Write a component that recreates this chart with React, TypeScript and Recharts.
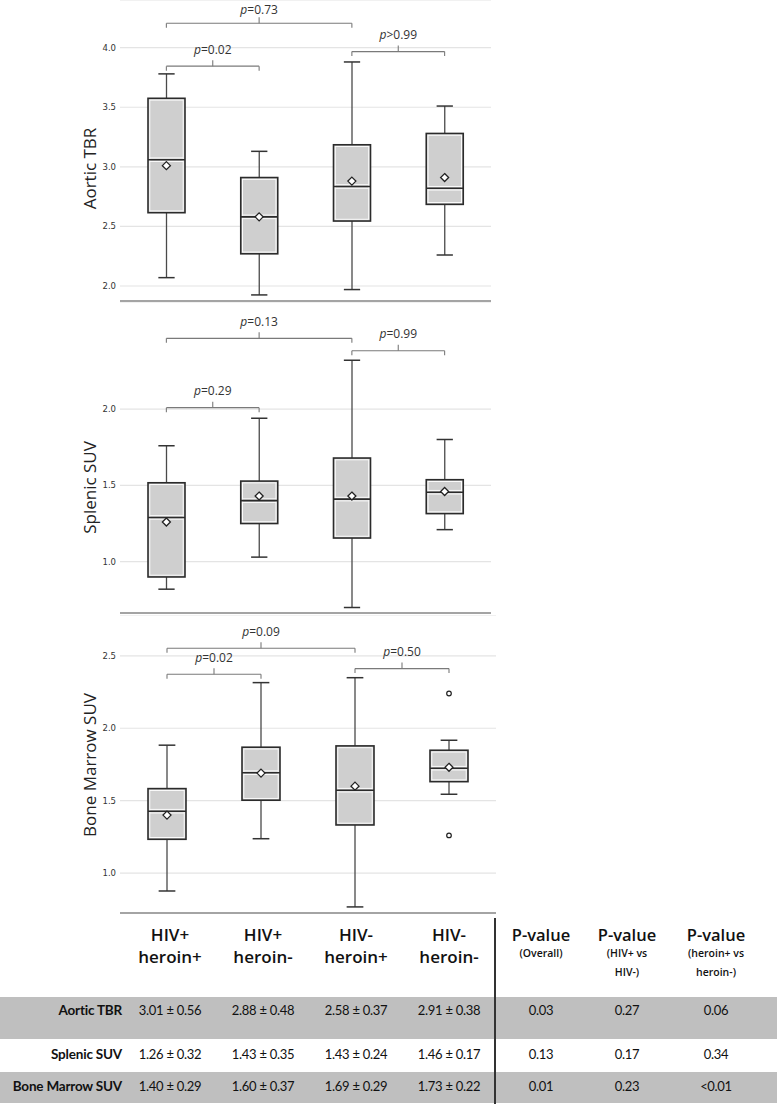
import React from 'react';
import { ComposedChart, Bar, Scatter, XAxis, YAxis, CartesianGrid, ReferenceLine } from 'recharts';

const groups = ['HIV+ heroin+', 'HIV+ heroin-', 'HIV- heroin+', 'HIV- heroin-'];

// Aortic TBR
const aorticMin = [2.07, 1.925, 1.97, 2.26];
const aorticQ1 = [2.615, 2.27, 2.545, 2.685];
const aorticMedian = [3.06, 2.58, 2.835, 2.82];
const aorticQ3 = [3.575, 2.91, 3.185, 3.28];
const aorticMax = [3.78, 3.13, 3.88, 3.51];
const aorticMean = [3.01, 2.58, 2.88, 2.91];
const aorticTicks = [2.0, 2.5, 3.0, 3.5, 4.0];

// Splenic SUV
const splenicMin = [0.82, 1.03, 0.7, 1.21];
const splenicQ1 = [0.9, 1.25, 1.155, 1.315];
const splenicMedian = [1.29, 1.4, 1.41, 1.455];
const splenicQ3 = [1.517, 1.528, 1.679, 1.537];
const splenicMax = [1.76, 1.94, 2.32, 1.8];
const splenicMean = [1.26, 1.43, 1.43, 1.46];
const splenicTicks = [1.0, 1.5, 2.0];

// Bone Marrow SUV
const marrowMin = [0.876, 1.237, 0.766, 1.544];
const marrowQ1 = [1.233, 1.503, 1.332, 1.631];
const marrowMedian = [1.427, 1.693, 1.572, 1.724];
const marrowQ3 = [1.583, 1.869, 1.878, 1.848];
const marrowMax = [1.883, 2.315, 2.349, 1.917];
const marrowMean = [1.4, 1.69, 1.6, 1.73];
const marrowOutlierGroup = ['HIV- heroin-', 'HIV- heroin-'];
const marrowOutlierValue = [2.24, 1.26];
const marrowTicks = [1.0, 1.5, 2.0, 2.5];

// p-value brackets: [from group, to group, height, text]
const aorticBrackets: [number, number, number, string][] = [
  [0, 1, 3.845, '=0.02'],
  [0, 2, 4.205, '=0.73'],
  [2, 3, 3.967, '>0.99'],
];
const splenicBrackets: [number, number, number, string][] = [
  [0, 1, 2.009, '=0.29'],
  [0, 2, 2.463, '=0.13'],
  [2, 3, 2.382, '=0.99'],
];
const marrowBrackets: [number, number, number, string][] = [
  [0, 1, 2.373, '=0.02'],
  [0, 2, 2.552, '=0.09'],
  [2, 3, 2.412, '=0.50'],
];

// table
const headerLines = [['HIV+', 'heroin+'], ['HIV+', 'heroin-'], ['HIV-', 'heroin+'], ['HIV-', 'heroin-']];
const pHeaders = [['(Overall)'], ['(HIV+ vs', 'HIV-)'], ['(heroin+ vs', 'heroin-)']];
const rowNames = ['Aortic TBR', 'Splenic SUV', 'Bone Marrow SUV'];
const aorticCells = ['3.01 ± 0.56', '2.88 ± 0.48', '2.58 ± 0.37', '2.91 ± 0.38'];
const splenicCells = ['1.26 ± 0.32', '1.43 ± 0.35', '1.43 ± 0.24', '1.46 ± 0.17'];
const marrowCells = ['1.40 ± 0.29', '1.60 ± 0.37', '1.69 ± 0.29', '1.73 ± 0.22'];
const pOverall = ['0.03', '0.13', '0.01'];
const pHivStatus = ['0.27', '0.17', '0.23'];
const pHeroin = ['0.06', '0.34', '<0.01'];

const buildRows = (mn: number[], q1: number[], med: number[], q3: number[], mx: number[], mean: number[]) =>
  groups.map((group, i) => ({ group, min: mn[i], q1: q1[i], median: med[i], q3: q3[i], max: mx[i], mean: mean[i] }));

const panels = [
  {
    label: 'Aortic TBR', labelShift: 18, top: 0, height: 310, width: 491, barSize: 37,
    domain: [1.874, 4.4], ticks: aorticTicks, brackets: aorticBrackets,
    rows: buildRows(aorticMin, aorticQ1, aorticMedian, aorticQ3, aorticMax, aorticMean),
    outliers: [] as { group: string; value: number }[],
  },
  {
    label: 'Splenic SUV', labelShift: 30, top: 302, height: 320, width: 491, barSize: 37,
    domain: [0.664, 2.701], ticks: splenicTicks, brackets: splenicBrackets,
    rows: buildRows(splenicMin, splenicQ1, splenicMedian, splenicQ3, splenicMax, splenicMean),
    outliers: [] as { group: string; value: number }[],
  },
  {
    label: 'Bone Marrow SUV', labelShift: 1, top: 615, height: 307, width: 496, barSize: 38,
    domain: [0.724, 2.782], ticks: marrowTicks, brackets: marrowBrackets,
    rows: buildRows(marrowMin, marrowQ1, marrowMedian, marrowQ3, marrowMax, marrowMean),
    outliers: marrowOutlierGroup.map((group, i) => ({ group, value: marrowOutlierValue[i] })),
  },
];

const BoxShape = (props: any) => {
  const { x, y, width, height, payload } = props;
  if (!payload) return null;
  const top = Math.min(y, y + height);
  const h = Math.abs(height);
  const py = (v: number) => top + (h * (payload.max - v)) / (payload.max - payload.min);
  const cx = x + width / 2;
  const yQ3 = py(payload.q3);
  const yQ1 = py(payload.q1);
  const yMed = py(payload.median);
  const cap = width * 0.22;
  return (
    <g>
      <line x1={cx} x2={cx} y1={top} y2={yQ3} stroke="#4a4a4a" strokeWidth={1.3} />
      <line x1={cx} x2={cx} y1={yQ1} y2={top + h} stroke="#4a4a4a" strokeWidth={1.3} />
      <line x1={cx - cap} x2={cx + cap} y1={top} y2={top} stroke="#333" strokeWidth={1.5} />
      <line x1={cx - cap} x2={cx + cap} y1={top + h} y2={top + h} stroke="#333" strokeWidth={1.5} />
      <rect x={x} y={yQ3} width={width} height={yQ1 - yQ3} fill="#cfcfcf" stroke="#2b2b2b" strokeWidth={1.6} />
      <rect x={x + 1.8} y={yQ3 + 1.8} width={width - 3.6} height={yQ1 - yQ3 - 3.6} fill="none" stroke="#fff" strokeWidth={0.9} />
      <line x1={x + 1.8} x2={x + width - 1.8} y1={yMed - 1.8} y2={yMed - 1.8} stroke="#fff" strokeWidth={0.9} />
      <line x1={x + 1.8} x2={x + width - 1.8} y1={yMed + 1.8} y2={yMed + 1.8} stroke="#fff" strokeWidth={0.9} />
      <line x1={x} x2={x + width} y1={yMed} y2={yMed} stroke="#2b2b2b" strokeWidth={1.6} />
    </g>
  );
};

const Diamond = (props: any) => {
  const { cx, cy } = props;
  if (cx == null || cy == null) return null;
  return <path d={`M${cx},${cy - 4}L${cx + 4},${cy}L${cx},${cy + 4}L${cx - 4},${cy}Z`} fill="#fff" stroke="#222" strokeWidth={1.3} />;
};

const Ring = (props: any) => {
  const { cx, cy } = props;
  if (cx == null || cy == null) return null;
  return <circle cx={cx} cy={cy} r={2.3} fill="#fff" stroke="#222" strokeWidth={1.2} />;
};

const bracketLabel = (text: string) => (props: any) => {
  const vb = props.viewBox || {};
  const x = vb.x;
  const y = vb.y;
  const w = vb.width;
  if (x == null) return null;
  const mid = x + w / 2;
  // keep the text inside the svg when the bracket sits near the top edge
  const baseline = Math.max(y - 12.5, 13.5);
  return (
    <g>
      <path d={`M${x},${y + 4.5}V${y}M${x + w},${y}V${y + 4.5}M${mid},${y}V${y - 6}`} stroke="#7a7a7a" strokeWidth={1.1} fill="none" />
      <text x={mid} y={baseline} textAnchor="middle" fontSize={12} fill="#333" fontFamily="'Open Sans', sans-serif">
        <tspan fontStyle="italic">p</tspan>
        {text}
      </text>
    </g>
  );
};

const axisLabel = (text: string, shift: number) => (props: any) => {
  const vb = props.viewBox || {};
  const cx = 96;
  const cy = vb.y + vb.height / 2 + shift;
  return (
    <text x={cx} y={cy} transform={`rotate(-90, ${cx}, ${cy})`} textAnchor="middle" fontSize={17} fill="#222" fontFamily="'Open Sans', sans-serif">
      {text}
    </text>
  );
};

const BoxPanel = ({ panel }: { panel: (typeof panels)[number] }) => (
  <div style={{ position: 'absolute', left: 0, top: panel.top }}>
    <ComposedChart width={panel.width} height={panel.height} data={panel.rows} margin={{ top: 0, right: 0, bottom: 0, left: 0 }}>
      <CartesianGrid vertical={false} stroke="#e4e4e4" strokeWidth={1.2} />
      <XAxis
        dataKey="group"
        type="category"
        allowDuplicatedCategory={false}
        height={9}
        tick={false}
        tickSize={5}
        axisLine={{ stroke: '#8a8a8a', strokeWidth: 1.4 }}
        tickLine={{ stroke: '#8a8a8a' }}
        interval={0}
      />
      <YAxis
        type="number"
        width={120}
        domain={panel.domain}
        allowDataOverflow
        ticks={panel.ticks}
        tickFormatter={(v: number) => v.toFixed(1)}
        axisLine={false}
        tickLine={false}
        tickSize={0}
        tickMargin={4}
        tick={{ fontSize: 8.5, fill: '#333', fontFamily: "'DejaVu Sans', sans-serif" }}
        label={axisLabel(panel.label, panel.labelShift)}
      />
      <Bar dataKey={(d: any) => [d.min, d.max]} barSize={panel.barSize} shape={<BoxShape />} isAnimationActive={false} />
      <Scatter dataKey="mean" shape={<Diamond />} isAnimationActive={false} />
      {panel.outliers.length > 0 && (
        <Scatter data={panel.outliers} dataKey="value" shape={<Ring />} isAnimationActive={false} />
      )}
      {panel.brackets.map(([a, b, v, text], i) => (
        <ReferenceLine
          key={i}
          segment={[{ x: groups[a], y: v }, { x: groups[b], y: v }]}
          stroke="#7a7a7a"
          strokeWidth={1.1}
          label={bracketLabel(text)}
        />
      ))}
    </ComposedChart>
  </div>
);

const colCenters = [170, 263, 356, 449];
const pCenters = [541, 627, 716];
const tableFont = "Lato, 'Open Sans', sans-serif";
const headFont = "'Open Sans', sans-serif";
const bodyStyle = { fontFamily: tableFont, fontSize: 13, letterSpacing: '-0.3px' };

const Cell = ({ cx, cy, w = 110, children, style }: any) => (
  <div style={{ position: 'absolute', left: cx - w / 2, width: w, top: cy - 10, height: 20, lineHeight: '20px', textAlign: 'center', whiteSpace: 'nowrap', ...style }}>
    {children}
  </div>
);

const rowCells = [aorticCells, splenicCells, marrowCells];
const rowBands = [
  { top: 997, height: 42, text: 1010, fill: '#bfbfbf' },
  { top: 1039, height: 33, text: 1054, fill: '#ffffff' },
  { top: 1072, height: 31, text: 1086, fill: '#bfbfbf' },
];

const Table = () => (
  <div style={{ position: 'absolute', left: 0, top: 0, width: 777, height: 1107, pointerEvents: 'none', color: '#111' }}>
    {rowBands.map((r, i) => (
      <div key={`band${i}`} style={{ position: 'absolute', left: 0, top: r.top, width: 777, height: r.height, background: r.fill }} />
    ))}
    <div style={{ position: 'absolute', left: 494, top: 918, width: 1.5, height: 186, background: '#333' }} />
    {headerLines.map((lines, i) => (
      <React.Fragment key={`h${i}`}>
        <Cell cx={colCenters[i]} cy={935} style={{ fontFamily: headFont, fontWeight: 600, fontSize: 17 }}>{lines[0]}</Cell>
        <Cell cx={colCenters[i]} cy={957} style={{ fontFamily: headFont, fontWeight: 600, fontSize: 17 }}>{lines[1]}</Cell>
      </React.Fragment>
    ))}
    {pHeaders.map((lines, i) => (
      <React.Fragment key={`p${i}`}>
        <Cell cx={pCenters[i]} cy={935} style={{ fontFamily: headFont, fontWeight: 600, fontSize: 16.5 }}>P-value</Cell>
        {lines.map((l, j) => (
          <Cell key={j} cx={pCenters[i]} cy={953 + j * 19} style={{ fontFamily: headFont, fontWeight: 600, fontSize: 10.5 }}>{l}</Cell>
        ))}
      </React.Fragment>
    ))}
    {rowNames.map((name, r) => (
      <React.Fragment key={`r${r}`}>
        <div style={{ position: 'absolute', left: 0, width: 122, top: rowBands[r].text - 10, height: 20, lineHeight: '20px', textAlign: 'right', fontFamily: tableFont, fontWeight: 700, fontSize: 13.5, letterSpacing: '-0.2px', whiteSpace: 'nowrap' }}>
          {name}
        </div>
        {rowCells[r].map((t, c) => (
          <Cell key={c} cx={colCenters[c]} cy={rowBands[r].text} style={bodyStyle}>{t}</Cell>
        ))}
        <Cell cx={pCenters[0]} cy={rowBands[r].text} style={bodyStyle}>{pOverall[r]}</Cell>
        <Cell cx={pCenters[1]} cy={rowBands[r].text} style={bodyStyle}>{pHivStatus[r]}</Cell>
        <Cell cx={pCenters[2]} cy={rowBands[r].text} style={bodyStyle}>{pHeroin[r]}</Cell>
      </React.Fragment>
    ))}
  </div>
);

export default function App() {
  return (
    <div style={{ position: 'absolute', left: 0, top: 0, width: 777, height: 1107, background: '#fff', overflow: 'hidden' }}>
      <Table />
      {panels.map((p) => (
        <BoxPanel key={p.label} panel={p} />
      ))}
    </div>
  );
}
